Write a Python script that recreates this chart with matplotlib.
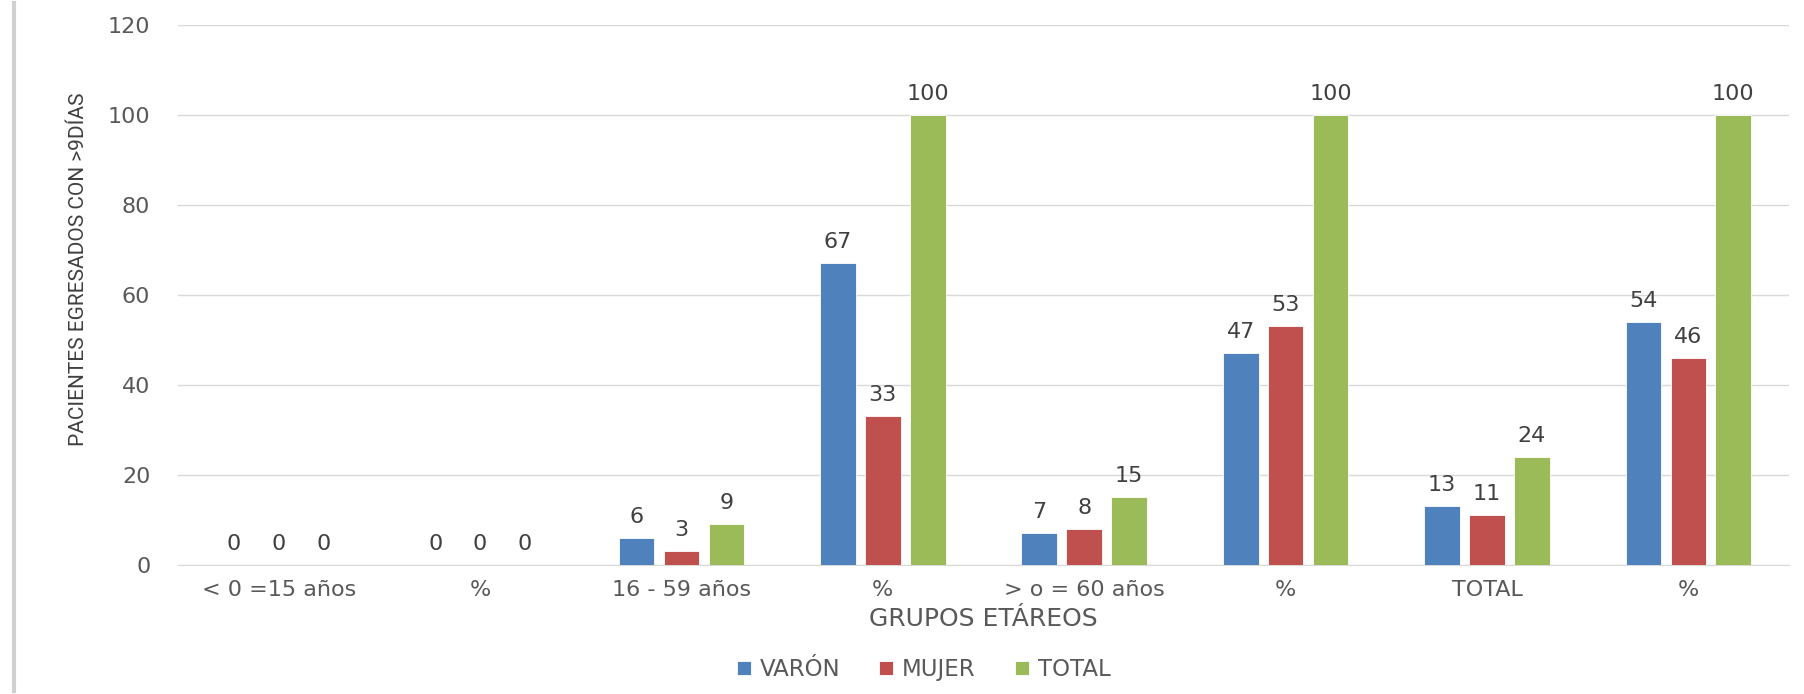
import numpy as np
import matplotlib.pyplot as plt
from matplotlib.lines import Line2D
from matplotlib import font_manager

categorias = ['< 0 =15 años', '%', '16 - 59 años', '%', '> o = 60 años', '%', 'TOTAL', '%']
varon = [0, 0, 6, 67, 7, 47, 13, 54]
mujer = [0, 0, 3, 33, 8, 53, 11, 46]
total = [0, 0, 9, 100, 15, 100, 24, 100]
series = ['VARÓN', 'MUJER', 'TOTAL']
colores = ['#4F81BD', '#C0504D', '#9BBB59']

plt.rcParams['font.family'] = ['DejaVu Sans']
gris = '#595959'

nombres = {f.name for f in font_manager.fontManager.ttflist}
if 'Liberation Sans Narrow' in nombres:
    fuente_y, tam_y = 'Liberation Sans Narrow', 17.5
else:
    fuente_y, tam_y = 'Roboto', 15

fig = plt.figure(figsize=(18.04, 6.94), dpi=100)
ax = fig.add_axes([0.0987, 0.186, 0.893, 0.778])

x = np.arange(len(categorias))
ancho = 0.177
paso = 0.223
for i, (vals, nombre, col) in enumerate(zip([varon, mujer, total], series, colores)):
    barras = ax.bar(x + (i - 1) * paso, vals, ancho, color=col, label=nombre,
                    edgecolor='white', linewidth=0.6, zorder=3)
    for b, v in zip(barras, vals):
        ax.text(b.get_x() + b.get_width() / 2, v + 2.5, str(v), ha='center', va='bottom',
                fontsize=16, color='#404040')

ax.set_xlim(-0.5, len(categorias) - 0.5)
ax.set_ylim(0, 120)
ax.set_yticks(range(0, 121, 20))
ax.set_xticks(x)
ax.set_xticklabels(categorias)
ax.tick_params(axis='both', length=0, labelsize=16, labelcolor=gris)
ax.tick_params(axis='y', pad=20)
ax.tick_params(axis='x', pad=11)
ax.yaxis.grid(True, color='#D9D9D9', linewidth=1, zorder=0)
for s in ['top', 'right', 'left']:
    ax.spines[s].set_visible(False)
ax.spines['bottom'].set_color('#D9D9D9')

ax.set_xlabel('GRUPOS ETÁREOS', fontsize=18, color=gris, labelpad=5)
ax.set_ylabel('PACIENTES EGRESADOS CON >9DÍAS', fontsize=tam_y, color='#404040',
              family=fuente_y)
ax.yaxis.set_label_coords(-0.056, 0.548)

fig.legend(*ax.get_legend_handles_labels(), loc='center', bbox_to_anchor=(0.512, 0.035),
           ncol=3, frameon=False, fontsize=16.5, labelcolor=gris, handlelength=0.6,
           handleheight=0.6, handletextpad=0.4, columnspacing=1.7)

fig.add_artist(Line2D([0.0078, 0.0078], [0.005, 0.995], color='#D0D0D0', linewidth=3))

fig.savefig('out.png', dpi=100)
